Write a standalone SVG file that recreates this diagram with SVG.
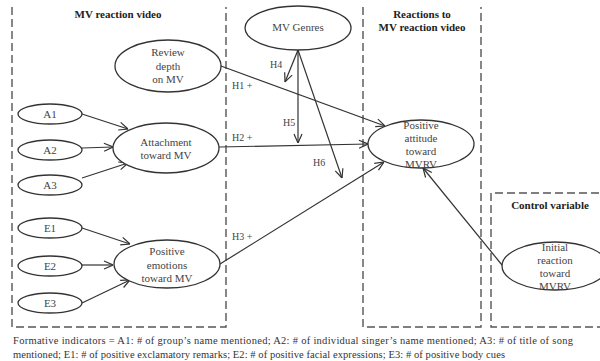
<svg xmlns="http://www.w3.org/2000/svg" width="600" height="361" viewBox="0 0 600 361">
<defs>
<marker id="arr" viewBox="0 0 10 10" refX="10" refY="5" markerWidth="10" markerHeight="10" markerUnits="userSpaceOnUse" orient="auto">
<path d="M1,1 L10,5 L1,9" fill="none" stroke="#333" stroke-width="1.2"/>
</marker>
<style>
.box{fill:none;stroke:#555;stroke-width:1.4;stroke-dasharray:8 4}
.nd{fill:#fff;stroke:#333;stroke-width:1.3}
.t{font-family:"Liberation Serif",serif;font-size:11px;fill:#444;text-anchor:middle}
.h{font-family:"Liberation Serif",serif;font-size:11px;font-weight:bold;fill:#222;text-anchor:middle}
.lb{font-family:"Liberation Serif",serif;font-size:10px;fill:#444}
.ft{font-family:"Liberation Serif",serif;font-size:10.5px;fill:#333}
.e{fill:none;stroke:#333;stroke-width:1.2;marker-end:url(#arr)}
</style>
</defs>
<rect width="600" height="361" fill="#fff"/>
<g id="frames">
<path class="box" d="M12,7 V327 H226 V7"/>
<path class="box" d="M363,7 V327 H481 V7"/>
<path class="box" d="M599,193 H491 V327 H600"/>
<text class="h" x="118" y="18">MV reaction video</text>
<text class="h" x="422" y="18">Reactions to</text>
<text class="h" x="422" y="31">MV reaction video</text>
<text class="h" x="550" y="209">Control variable</text>
</g>
<g id="connectors">
<line class="e" x1="82" y1="114" x2="128" y2="129"/>
<line class="e" x1="82" y1="148" x2="113" y2="147"/>
<line class="e" x1="82" y1="178" x2="128" y2="163"/>
<line class="e" x1="82" y1="228" x2="130" y2="244"/>
<line class="e" x1="82" y1="265" x2="113" y2="265"/>
<line class="e" x1="82" y1="303" x2="130" y2="280"/>
<line class="e" x1="221" y1="66" x2="385" y2="126"/>
<line class="e" x1="219" y1="147" x2="368" y2="144"/>
<line class="e" x1="220" y1="264" x2="384" y2="162"/>
<line class="e" x1="298" y1="50" x2="285" y2="82"/>
<line class="e" x1="298" y1="50" x2="298" y2="143"/>
<line class="e" x1="298" y1="50" x2="342" y2="178"/>
<line class="e" x1="502" y1="265" x2="423" y2="168"/>
<text class="lb" x="232" y="89">H1 +</text>
<text class="lb" x="232" y="141">H2 +</text>
<text class="lb" x="232" y="240">H3 +</text>
<text class="lb" x="270" y="68">H4</text>
<text class="lb" x="283" y="126">H5</text>
<text class="lb" x="313" y="166">H6</text>
</g>
<g id="review">
<ellipse class="nd" cx="168" cy="66" rx="53" ry="26"/>
<text class="t" x="168" y="56">Review</text>
<text class="t" x="168" y="70">depth</text>
<text class="t" x="168" y="83">on MV</text>
</g>
<g id="a1"><ellipse class="nd" cx="50" cy="114" rx="32" ry="10"/><text class="t" x="50" y="118">A1</text></g>
<g id="a2"><ellipse class="nd" cx="50" cy="150" rx="32" ry="10"/><text class="t" x="50" y="154">A2</text></g>
<g id="a3"><ellipse class="nd" cx="50" cy="185" rx="32" ry="10"/><text class="t" x="50" y="189">A3</text></g>
<g id="attachment">
<ellipse class="nd" cx="166" cy="148" rx="53" ry="25"/>
<text class="t" x="166" y="146">Attachment</text>
<text class="t" x="166" y="159">toward MV</text>
</g>
<g id="e1"><ellipse class="nd" cx="50" cy="228" rx="32" ry="10"/><text class="t" x="50" y="232">E1</text></g>
<g id="e2"><ellipse class="nd" cx="50" cy="266" rx="32" ry="10"/><text class="t" x="50" y="270">E2</text></g>
<g id="e3"><ellipse class="nd" cx="50" cy="303" rx="32" ry="10"/><text class="t" x="50" y="307">E3</text></g>
<g id="emotions">
<ellipse class="nd" cx="167" cy="264" rx="53" ry="24"/>
<text class="t" x="167" y="255">Positive</text>
<text class="t" x="167" y="269">emotions</text>
<text class="t" x="167" y="282">toward MV</text>
</g>
<g id="genres">
<ellipse class="nd" cx="298" cy="28" rx="53" ry="22"/>
<text class="t" x="298" y="31">MV Genres</text>
</g>
<g id="attitude">
<ellipse class="nd" cx="421" cy="144" rx="53" ry="24"/>
<text class="t" x="421" y="129">Positive</text>
<text class="t" x="421" y="142">attitude</text>
<text class="t" x="421" y="155">toward</text>
<text class="t" x="421" y="168">MVRV</text>
</g>
<g id="initial">
<ellipse class="nd" cx="555" cy="266" rx="53" ry="24"/>
<text class="t" x="555" y="251">Initial</text>
<text class="t" x="555" y="264">reaction</text>
<text class="t" x="555" y="277">toward</text>
<text class="t" x="555" y="290">MVRV</text>
</g>
<g id="footer">
<text class="ft" x="13" y="344" textLength="560" lengthAdjust="spacing">Formative indicators = A1: # of group’s name mentioned; A2: # of individual  singer’s name  mentioned; A3: # of title  of song</text>
<text class="ft" x="13" y="358" textLength="492" lengthAdjust="spacing">mentioned; E1: #  of positive exclamatory remarks; E2: # of  positive facial  expressions; E3: # of positive body cues</text>
</g>
</svg>
